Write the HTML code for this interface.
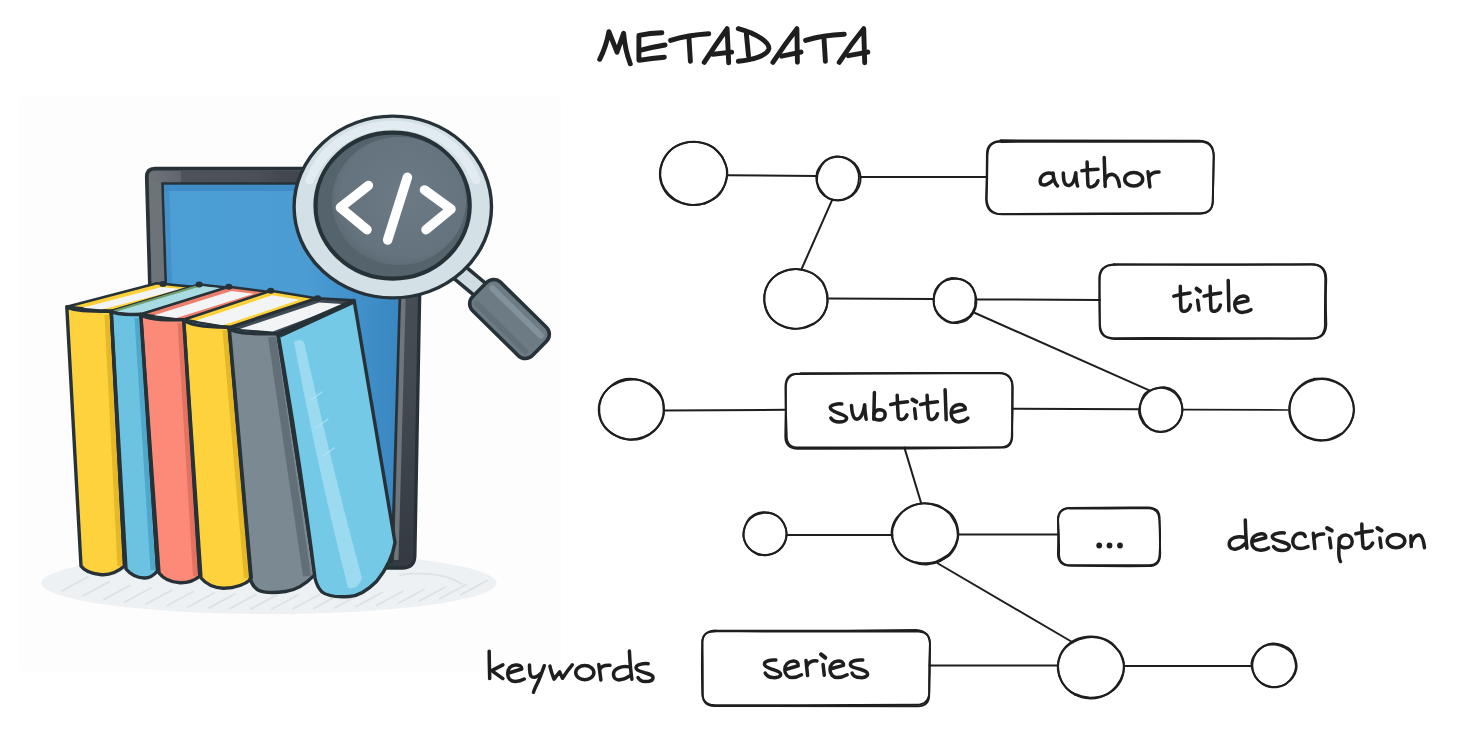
<!DOCTYPE html>
<html><head><meta charset="utf-8"><title>Metadata</title>
<style>
html,body{margin:0;padding:0;background:#fff;width:1471px;height:746px;overflow:hidden;font-family:"Liberation Sans",sans-serif;}
svg{position:absolute;left:0;top:0;display:block}
</style></head>
<body>
<svg width="1471" height="746" viewBox="0 0 1471 746">
<rect x="19" y="97" width="542" height="574" fill="#fdfdfd"/>
<g id="illus">
 <defs>
  <linearGradient id="scr" x1="0" y1="0" x2="1" y2="0">
   <stop offset="0" stop-color="#4c9fd5"/>
   <stop offset="0.6" stop-color="#4a9cd3"/>
   <stop offset="1" stop-color="#3986c1"/>
  </linearGradient>
  <radialGradient id="lens" cx="0.55" cy="0.45" r="0.6">
   <stop offset="0" stop-color="#6b7a84"/>
   <stop offset="0.8" stop-color="#64737d"/>
   <stop offset="1" stop-color="#5b6972"/>
  </radialGradient>
  <linearGradient id="tabg" x1="0" y1="0" x2="0" y2="1">
   <stop offset="0" stop-color="#4a5156"/>
   <stop offset="0.5" stop-color="#454c51"/>
   <stop offset="1" stop-color="#343b40"/>
  </linearGradient>
  <linearGradient id="topbz" gradientUnits="userSpaceOnUse" x1="147" y1="0" x2="330" y2="0">
   <stop offset="0" stop-color="#6d7378"/>
   <stop offset="0.06" stop-color="#6a7075"/>
   <stop offset="0.18" stop-color="#60666b"/>
   <stop offset="0.19" stop-color="#4d5358"/>
   <stop offset="0.6" stop-color="#4a5055"/>
   <stop offset="0.75" stop-color="#42484d"/>
   <stop offset="1" stop-color="#3f454a"/>
  </linearGradient>
 </defs>
 <!-- shadow -->
 <ellipse cx="269" cy="583" rx="227.6" ry="31" fill="#eef1f3"/>
 <clipPath id="shc"><ellipse cx="269" cy="583" rx="225" ry="29"/></clipPath>
 <g stroke="#dce2e6" stroke-width="1.8" stroke-linecap="round" clip-path="url(#shc)"><path d="M62.0,590.9 L88.0,576.9"/><path d="M83.0,595.9 L109.0,581.9"/><path d="M104.0,599.4 L130.0,585.4"/><path d="M125.0,602.0 L151.0,588.0"/><path d="M146.0,604.1 L172.0,590.1"/><path d="M167.0,605.7 L193.0,591.7"/><path d="M188.0,607.0 L214.0,593.0"/><path d="M209.0,607.9 L235.0,593.9"/><path d="M230.0,608.5 L256.0,594.5"/><path d="M251.0,608.9 L277.0,594.9"/><path d="M272.0,609.0 L298.0,595.0"/><path d="M293.0,608.8 L319.0,594.8"/><path d="M314.0,608.4 L340.0,594.4"/><path d="M335.0,607.7 L361.0,593.7"/><path d="M356.0,606.6 L382.0,592.6"/><path d="M377.0,605.3 L403.0,591.3"/><path d="M398.0,603.5 L424.0,589.5"/><path d="M419.0,601.3 L445.0,587.3"/><path d="M440.0,598.5 L466.0,584.5"/><path d="M461.0,594.6 L487.0,580.6"/><path d="M400,575 Q440,570 462,584" fill="none"/></g>
 <!-- tablet -->
 <path d="M146.6,177 Q146.6,168.4 155,168.4 L414,168.4 Q422,168.4 421.8,177 L414.8,556 Q414.5,568 402,568 L170,568 Q158,568 157.6,556 Z" fill="url(#tabg)" stroke="#263238" stroke-width="3.4" stroke-linejoin="round"/>
 <path d="M149,176 Q149,171 155,171 L330,171 L330,183.5 L162.5,183.5 L175,560 L159,560 Z" fill="url(#topbz)"/>
 <path d="M149,178 L162,183.5 L175,560 L159,560 Z" fill="#6c7379"/>
 <path d="M162.5,183.5 L403.2,183.5 L392,562 L175,562 Z" fill="url(#scr)" stroke="#263238" stroke-width="2.6"/>
 <path d="M164,185 L402,185 L401.8,191 L164,191 Z" fill="#3d89c3" opacity="0.85"/>
 <path d="M164,185 L169,185 L181,560 L176,560 Z" fill="#3d89c3" opacity="0.6"/>
 <path d="M404,195 L408.5,195 L398.5,560 L394,560 Z" fill="#6f767b"/>
 <!-- magnifier handle -->
 <path d="M452,266 L483,292" stroke="#263238" stroke-width="20" stroke-linecap="butt"/>
 <path d="M453,267 L482,291" stroke="#cfdce2" stroke-width="13" stroke-linecap="butt"/>
 <g transform="translate(509.5,319) rotate(44.5)">
  <rect x="-42" y="-20" width="84" height="40" rx="10" fill="#6d7b85" stroke="#263238" stroke-width="3.6"/>
  <path d="M-34,-10 L34,-10" stroke="#83919a" stroke-width="6" stroke-linecap="round"/>
  <path d="M-34,12 L34,12" stroke="#63717a" stroke-width="6" stroke-linecap="round"/>
 </g>
 <!-- magnifier ring -->
 <ellipse cx="392.8" cy="207" rx="98.7" ry="90.9" fill="#d3e0e6" stroke="#263238" stroke-width="3.4"/>
 <path d="M310,180 A88,82 0 0,1 476,180" stroke="#e3ecf0" stroke-width="9" fill="none" stroke-linecap="round" opacity="0.9"/>
 <ellipse cx="392.6" cy="205.6" rx="77.1" ry="73" fill="#55636c" stroke="#263238" stroke-width="4.2"/>
 <ellipse cx="399" cy="201" rx="67" ry="64" fill="url(#lens)"/>
 <g stroke="#ffffff" stroke-width="9.5" stroke-linecap="round" stroke-linejoin="round" fill="none">
  <path d="M368.4,185.5 L340.4,207.6 L367,229.7"/>
  <path d="M407.4,177.2 L387.6,240"/>
  <path d="M424.5,189.9 L451,209.1 L426,229.7"/>
 </g>
 <!-- books -->
  <path d="M66.8,306.8 L156.8,283.3 L201.2,287.6 L111.2,311.1 Z" fill="#fdd13a" stroke="#263238" stroke-width="2.6" stroke-linejoin="round"/>
  <path d="M82.5,307.7 L161.7,287.0 L181.2,288.9 L102.0,309.6 Z" fill="#f2f4f5"/>
  <path d="M111.2,311.1 L199.2,284.6 L228.8,287.8 L140.8,314.3 Z" fill="#7aa9a6" stroke="#263238" stroke-width="2.6" stroke-linejoin="round"/>
  <path d="M115.5,311.5 L200.6,286.0 L224.3,288.6 L137.2,314.0 Z" fill="#a8dce2"/>
  <path d="M113.5,311.3 L199.5,285.5" stroke="#6f9c6a" stroke-width="2.2"/>
  <path d="M140.8,314.3 L228.8,286.8 L271.7,292.2 L183.7,319.7 Z" fill="#ee7f6e" stroke="#263238" stroke-width="2.6" stroke-linejoin="round"/>
  <path d="M154.0,315.2 L231.5,291.0 L253.8,293.8 L176.4,318.0 Z" fill="#f2f4f5"/>
  <path d="M183.7,319.7 L270.7,290.7 L316.3,298.2 L229.3,327.2 Z" fill="#fdd13a" stroke="#263238" stroke-width="2.6" stroke-linejoin="round"/>
  <path d="M195.6,320.8 L272.2,295.3 L299.6,299.8 L223.0,325.3 Z" fill="#f2f4f5"/>
  <path d="M228.6,328.3 L317.6,298.3 L354.1,300.4 L278.0,333.6 Z" fill="#3f4a52" stroke="#263238" stroke-width="2.6" stroke-linejoin="round"/>
  <path d="M239.8,328.9 L319.1,302.5 L345.5,304.2 L272.8,331.6 Z" fill="#f2f4f5"/>
 <g fill="#263238">
  <ellipse cx="163" cy="284" rx="3.6" ry="3"/>
  <ellipse cx="199.2" cy="284.6" rx="3.6" ry="3"/>
  <ellipse cx="228.8" cy="286.8" rx="3.6" ry="3"/>
  <ellipse cx="270.7" cy="290.7" rx="3.6" ry="3"/>
  <ellipse cx="317.6" cy="298.3" rx="3.6" ry="3"/>
 </g>
 <g stroke="#263238" stroke-width="3.4" stroke-linejoin="round">
  <path d="M66.8,306.8 Q73,312 111.2,311.1 L124.5,566 Q113,576 100,574.5 Q86,573 81,566 Z" fill="#fdd23c"/>
  <path d="M111.2,311.1 Q117,315.5 140.8,314.3 L157.6,571 Q151,578.5 144,578 Q133,577.5 126,569 Z" fill="#6bc3e1"/>
  <path d="M140.8,314.3 Q148,321 183.7,319.7 L199.8,576 Q192,583 180,582.8 Q166,582 159,573 Z" fill="#fb8b78"/>
  <path d="M183.7,319.7 Q191,327.5 229.3,327.2 L251.4,579 Q240,588.5 223,588.2 Q209,587.5 201,578 Z" fill="#fdd23c"/>
  <path d="M228.6,328.3 Q236,335 278,333.6 L315.2,574.4 Q300,590 285.6,591.5 Q266,594 258,590 Q252,586 250,578 Z" fill="#7b8993"/>
 </g>
 <g stroke-width="5" fill="none">
  <path d="M107,315 L120,566" stroke="#e6b726"/>
  <path d="M137,318 L153,570" stroke="#4fa7cc"/>
  <path d="M180,323 L195.5,576" stroke="#e4725f"/>
  <path d="M225,330 L246.5,578" stroke="#e6b726"/>
  <path d="M272,337 L307,576" stroke="#626f78" stroke-width="8"/>
 </g>
 <g stroke="#263238" stroke-width="3.4" fill="none">
  <path d="M111.2,312 L124.5,566"/><path d="M140.8,315 L157.6,571"/><path d="M183.7,320.5 L199.8,576"/><path d="M229.3,328 L251.4,579"/><path d="M278,334 L315.2,574.4"/>
 </g>
 <g stroke="#263238" stroke-width="3.4" stroke-linejoin="round">
  <path d="M278,333.6 L354.1,300.4 L395,542.5 Q392,562 376.7,581.3 Q362,596 349.4,596.5 Q330,598 322,592 Q317,587 315,578 Q300,460 278,333.6 Z" fill="#74c9e6"/>
 </g>
 <path d="M294,342 Q299,338 304,342 Q330,460 362,578 Q358,590 348,588 Q318,470 294,342 Z" fill="#9cdaef"/>
 <g stroke="#b3e3f3" stroke-width="1.4" stroke-linecap="round" opacity="0.8"><path d="M311,400 L322,392"/><path d="M316,428 L328,419"/><path d="M323,456 L334,448"/></g>
 <path d="M280,336 L354,302" stroke="#263238" stroke-width="3.4" fill="none"/>
</g>
<g id="diagram" fill="none" stroke="#1e1e1e" stroke-linecap="round" stroke-linejoin="round">
 <g stroke-width="2">
  <path d="M727,175.2 L816.5,176"/>
  <path d="M860.5,177 L987,177"/>
  <path d="M832.3,199.6 L801.6,269"/>
  <path d="M829,298.5 L933.5,299"/>
  <path d="M976.3,299.4 L1100,300"/>
  <path d="M975,313 L1149.3,390.4"/>
  <path d="M664,410.4 L786,409.8"/>
  <path d="M1012.4,408.8 L1139.5,409.2"/>
  <path d="M1183,409.6 L1288,410" stroke-width="1.7"/>
  <path d="M904.4,447.6 L921.2,503.3"/>
  <path d="M786.6,535 L892.5,535"/>
  <path d="M958,534.6 L1058.2,534.6"/>
  <path d="M938,563.5 L1073,642.5"/>
  <path d="M929.4,665.4 L1057.5,665.6"/>
  <path d="M1124.1,666 L1251.8,666"/>
 </g>
 <g stroke-width="1.9">
  <path d="M714.21,198.92 C711.77,199.85 704.64,203.68 699.59,204.49 C694.54,205.30 688.85,205.07 683.91,203.79 C678.97,202.52 673.68,200.10 669.95,196.84 C666.23,193.58 663.18,188.78 661.55,184.23 C659.92,179.69 659.48,174.30 660.18,169.58 C660.88,164.85 662.92,159.90 665.73,155.88 C668.55,151.87 672.59,147.82 677.05,145.48 C681.51,143.14 687.32,141.98 692.50,141.85 C697.68,141.72 703.51,142.62 708.13,144.70 C712.75,146.78 717.17,150.49 720.23,154.35 C723.29,158.21 725.61,163.18 726.49,167.86 C727.37,172.55 726.87,177.84 725.49,182.46 C724.12,187.08 721.67,192.06 718.23,195.60 C714.79,199.13 707.08,202.33 704.85,203.67"/>
  <path d="M722.28,157.02 C723.10,159.25 726.77,165.84 727.22,170.42 C727.67,174.99 726.71,180.14 724.97,184.46 C723.23,188.78 720.28,193.12 716.76,196.31 C713.25,199.50 708.51,202.21 703.88,203.59 C699.24,204.98 693.74,205.31 688.94,204.62 C684.14,203.93 679.11,202.00 675.08,199.45 C671.04,196.90 667.17,193.26 664.70,189.33 C662.24,185.39 660.62,180.40 660.26,175.83 C659.90,171.26 660.82,166.21 662.55,161.91 C664.29,157.61 667.13,153.13 670.67,150.01 C674.21,146.90 679.13,144.54 683.79,143.22 C688.46,141.91 693.85,141.46 698.65,142.11 C703.46,142.76 708.61,144.56 712.64,147.14 C716.67,149.72 721.14,155.84 722.83,157.57"/>
  <path d="M819.22,167.63 C820.36,166.37 823.34,161.94 826.08,160.08 C828.82,158.22 832.37,156.85 835.65,156.47 C838.92,156.09 842.62,156.68 845.74,157.79 C848.86,158.90 852.06,160.78 854.37,163.12 C856.69,165.47 858.63,168.70 859.63,171.86 C860.63,175.02 860.93,178.81 860.36,182.06 C859.78,185.31 858.18,188.72 856.20,191.37 C854.21,194.03 851.40,196.46 848.46,197.99 C845.52,199.51 841.89,200.46 838.54,200.53 C835.20,200.61 831.41,199.92 828.41,198.46 C825.40,196.99 822.45,194.45 820.50,191.74 C818.55,189.03 817.29,185.49 816.72,182.19 C816.14,178.89 816.06,175.08 817.04,171.94 C818.02,168.80 821.67,164.79 822.60,163.36"/>
  <path d="M817.82,173.53 C818.50,172.08 820.01,167.31 821.88,164.85 C823.75,162.38 826.34,160.10 829.04,158.74 C831.74,157.38 835.07,156.67 838.08,156.68 C841.09,156.70 844.34,157.49 847.09,158.82 C849.85,160.15 852.66,162.22 854.58,164.68 C856.51,167.14 858.01,170.47 858.62,173.59 C859.23,176.71 858.99,180.29 858.26,183.40 C857.53,186.50 856.17,189.79 854.25,192.25 C852.33,194.70 849.52,196.82 846.74,198.14 C843.96,199.45 840.64,200.17 837.58,200.15 C834.52,200.12 831.07,199.45 828.37,197.99 C825.68,196.53 823.28,193.96 821.42,191.39 C819.56,188.82 817.86,185.70 817.23,182.58 C816.59,179.47 817.56,174.36 817.63,172.71"/>
  <path d="M814.97,323.01 C812.66,323.87 805.90,327.40 801.11,328.16 C796.32,328.91 790.86,328.84 786.22,327.55 C781.57,326.26 776.64,323.63 773.23,320.39 C769.83,317.15 767.24,312.48 765.80,308.10 C764.36,303.73 763.88,298.65 764.60,294.13 C765.32,289.61 767.25,284.68 770.10,281.01 C772.95,277.33 777.35,274.07 781.71,272.08 C786.07,270.09 791.44,268.99 796.26,269.06 C801.09,269.13 806.37,270.41 810.69,272.49 C815.01,274.57 819.47,277.80 822.17,281.53 C824.87,285.26 826.25,290.31 826.89,294.86 C827.53,299.41 827.50,304.49 826.03,308.82 C824.55,313.15 821.57,317.72 818.03,320.83 C814.50,323.95 807.04,326.39 804.84,327.50"/>
  <path d="M822.63,282.55 C823.44,284.63 826.89,290.75 827.51,295.05 C828.12,299.35 827.73,304.19 826.32,308.33 C824.91,312.47 822.26,316.73 819.04,319.87 C815.82,323.00 811.37,325.67 806.99,327.15 C802.62,328.62 797.40,329.17 792.79,328.71 C788.18,328.25 783.30,326.61 779.32,324.37 C775.33,322.12 771.36,318.89 768.86,315.26 C766.36,311.62 764.85,306.89 764.32,302.57 C763.78,298.24 764.20,293.43 765.65,289.31 C767.10,285.18 769.77,280.92 773.02,277.83 C776.27,274.73 780.77,272.14 785.16,270.73 C789.54,269.31 794.70,268.90 799.32,269.35 C803.94,269.81 808.94,271.20 812.87,273.47 C816.81,275.73 821.26,281.37 822.94,282.95"/>
  <path d="M975.81,297.36 C975.62,299.08 975.72,304.45 974.66,307.63 C973.59,310.82 971.77,314.21 969.43,316.46 C967.08,318.71 963.69,320.20 960.58,321.14 C957.46,322.08 953.85,322.70 950.74,322.10 C947.62,321.51 944.40,319.62 941.88,317.56 C939.36,315.49 937.00,312.69 935.62,309.71 C934.23,306.74 933.59,303.08 933.59,299.72 C933.59,296.37 934.13,292.55 935.60,289.58 C937.08,286.62 939.75,283.85 942.44,281.92 C945.14,279.99 948.58,278.38 951.77,278.01 C954.97,277.64 958.50,278.58 961.61,279.69 C964.72,280.81 968.18,282.30 970.43,284.68 C972.68,287.06 974.31,290.70 975.09,293.96 C975.88,297.22 975.13,302.50 975.14,304.21"/>
  <path d="M959.49,322.61 C957.88,322.61 952.83,323.39 949.79,322.60 C946.75,321.81 943.68,319.97 941.26,317.86 C938.85,315.75 936.58,312.93 935.30,309.96 C934.01,307.00 933.42,303.33 933.58,300.07 C933.73,296.82 934.76,293.38 936.20,290.45 C937.64,287.52 939.68,284.38 942.22,282.50 C944.75,280.61 948.27,279.68 951.42,279.14 C954.58,278.60 958.12,278.41 961.16,279.28 C964.19,280.16 967.38,282.11 969.64,284.39 C971.91,286.67 973.63,289.88 974.75,292.95 C975.88,296.03 976.56,299.57 976.38,302.85 C976.20,306.13 975.27,309.78 973.67,312.63 C972.07,315.49 969.48,318.23 966.78,319.99 C964.07,321.74 958.99,322.63 957.43,323.15"/>
  <path d="M663.23,401.94 C663.20,404.30 664.22,411.64 663.02,416.08 C661.82,420.53 659.29,425.12 656.06,428.60 C652.82,432.08 648.26,435.16 643.63,436.96 C639.01,438.76 633.27,439.82 628.29,439.39 C623.31,438.96 617.97,436.88 613.73,434.38 C609.48,431.87 605.32,428.29 602.82,424.34 C600.32,420.39 598.89,415.26 598.72,410.68 C598.55,406.10 599.67,401.00 601.80,396.88 C603.92,392.75 607.51,388.69 611.47,385.92 C615.44,383.15 620.64,381.17 625.59,380.26 C630.54,379.34 636.43,379.08 641.19,380.44 C645.96,381.80 650.59,385.10 654.16,388.40 C657.73,391.69 661.02,395.89 662.60,400.21 C664.17,404.54 663.42,411.99 663.59,414.35"/>
  <path d="M649.32,383.31 C651.04,384.94 657.23,389.28 659.64,393.10 C662.05,396.92 663.35,401.78 663.79,406.22 C664.22,410.66 663.86,415.62 662.26,419.74 C660.65,423.87 657.54,427.89 654.16,430.98 C650.78,434.07 646.40,436.85 641.97,438.27 C637.54,439.68 632.23,440.05 627.57,439.48 C622.91,438.92 617.99,437.23 614.01,434.88 C610.02,432.53 606.08,429.13 603.64,425.37 C601.20,421.62 599.79,416.78 599.37,412.37 C598.94,407.97 599.50,403.07 601.10,398.95 C602.71,394.83 605.67,390.80 609.00,387.65 C612.33,384.51 616.66,381.51 621.09,380.09 C625.52,378.67 630.93,378.49 635.60,379.12 C640.27,379.75 646.86,383.08 649.11,383.87"/>
  <path d="M1176.50,394.44 C1177.35,395.91 1180.66,400.11 1181.59,403.30 C1182.52,406.48 1182.65,410.27 1182.08,413.55 C1181.51,416.83 1180.09,420.29 1178.17,422.97 C1176.24,425.65 1173.45,428.09 1170.55,429.62 C1167.66,431.14 1164.06,432.13 1160.80,432.14 C1157.53,432.14 1153.92,431.16 1150.98,429.63 C1148.03,428.10 1145.10,425.70 1143.12,422.97 C1141.15,420.23 1139.54,416.58 1139.12,413.24 C1138.71,409.89 1139.63,406.19 1140.64,402.91 C1141.66,399.62 1142.93,395.86 1145.22,393.53 C1147.51,391.19 1151.19,389.93 1154.39,388.90 C1157.58,387.86 1161.11,386.94 1164.39,387.30 C1167.67,387.67 1171.36,389.07 1174.08,391.06 C1176.81,393.05 1179.63,397.88 1180.74,399.24"/>
  <path d="M1144.77,423.57 C1144.07,422.09 1141.32,417.84 1140.58,414.70 C1139.85,411.57 1139.67,407.90 1140.36,404.76 C1141.05,401.62 1142.73,398.37 1144.71,395.85 C1146.69,393.33 1149.41,391.00 1152.24,389.64 C1155.07,388.29 1158.59,387.59 1161.68,387.73 C1164.77,387.86 1168.04,388.99 1170.79,390.47 C1173.54,391.94 1176.31,394.07 1178.17,396.58 C1180.04,399.10 1181.40,402.44 1181.98,405.57 C1182.57,408.69 1182.47,412.28 1181.68,415.35 C1180.89,418.41 1179.23,421.55 1177.23,423.95 C1175.23,426.35 1172.46,428.42 1169.66,429.72 C1166.86,431.03 1163.50,431.82 1160.41,431.76 C1157.33,431.69 1153.90,430.82 1151.15,429.32 C1148.39,427.83 1145.10,423.87 1143.89,422.78"/>
  <path d="M1313.74,378.79 C1316.27,378.83 1324.16,377.89 1328.95,379.06 C1333.73,380.22 1338.70,382.64 1342.46,385.76 C1346.22,388.88 1349.65,393.31 1351.50,397.80 C1353.36,402.29 1354.12,407.86 1353.58,412.68 C1353.05,417.49 1351.02,422.66 1348.30,426.69 C1345.58,430.72 1341.54,434.54 1337.27,436.87 C1333.01,439.20 1327.61,440.48 1322.71,440.67 C1317.80,440.86 1312.23,440.07 1307.84,438.01 C1303.46,435.95 1299.33,432.18 1296.39,428.31 C1293.45,424.44 1291.10,419.52 1290.22,414.79 C1289.34,410.05 1289.65,404.50 1291.13,399.89 C1292.61,395.29 1295.59,390.56 1299.09,387.14 C1302.58,383.72 1307.42,380.74 1312.11,379.38 C1316.80,378.03 1324.70,379.06 1327.22,379.00"/>
  <path d="M1341.80,433.39 C1339.66,434.40 1333.47,438.43 1328.94,439.42 C1324.40,440.41 1319.19,440.28 1314.59,439.35 C1310.00,438.43 1305.10,436.56 1301.38,433.85 C1297.65,431.15 1294.28,427.14 1292.24,423.10 C1290.21,419.07 1289.15,414.11 1289.16,409.62 C1289.18,405.13 1290.25,400.15 1292.33,396.15 C1294.41,392.15 1297.92,388.33 1301.66,385.61 C1305.39,382.89 1310.15,380.75 1314.74,379.81 C1319.32,378.87 1324.58,378.96 1329.15,379.97 C1333.72,380.98 1338.57,383.06 1342.18,385.87 C1345.80,388.67 1348.85,392.78 1350.83,396.82 C1352.81,400.86 1354.09,405.69 1354.05,410.12 C1354.00,414.55 1352.64,419.39 1350.55,423.38 C1348.46,427.37 1343.02,432.29 1341.52,434.08"/>
  <path d="M765.66,555.07 C763.99,554.78 758.64,554.68 755.67,553.30 C752.69,551.91 749.81,549.40 747.80,546.75 C745.80,544.09 744.13,540.63 743.62,537.38 C743.10,534.13 743.74,530.43 744.72,527.24 C745.71,524.05 747.26,520.62 749.52,518.25 C751.79,515.88 755.17,513.99 758.32,513.03 C761.46,512.07 765.15,511.95 768.38,512.47 C771.61,513.00 775.08,514.27 777.70,516.18 C780.32,518.08 782.61,520.99 784.09,523.90 C785.57,526.80 786.54,530.34 786.60,533.61 C786.66,536.88 785.92,540.58 784.46,543.52 C783.00,546.45 780.50,549.35 777.82,551.22 C775.14,553.09 771.65,554.13 768.37,554.72 C765.08,555.31 759.82,554.77 758.11,554.78"/>
  <path d="M762.57,512.70 C764.18,512.87 769.23,512.68 772.20,513.71 C775.18,514.74 778.23,516.63 780.43,518.88 C782.63,521.13 784.41,524.21 785.40,527.21 C786.39,530.21 786.83,533.76 786.38,536.86 C785.93,539.96 784.49,543.23 782.70,545.82 C780.90,548.40 778.34,550.81 775.61,552.38 C772.89,553.95 769.48,555.06 766.36,555.25 C763.23,555.43 759.77,554.69 756.85,553.50 C753.93,552.31 750.96,550.41 748.84,548.10 C746.72,545.79 744.95,542.64 744.14,539.63 C743.33,536.61 743.34,533.05 743.96,529.99 C744.59,526.93 746.04,523.76 747.91,521.28 C749.78,518.80 752.43,516.54 755.19,515.09 C757.95,513.64 762.92,512.99 764.47,512.57"/>
  <path d="M947.55,555.27 C945.29,556.44 938.85,561.03 933.99,562.25 C929.13,563.48 923.40,563.50 918.38,562.65 C913.36,561.80 907.78,560.02 903.87,557.15 C899.96,554.28 896.96,549.68 894.92,545.42 C892.88,541.16 891.36,536.15 891.62,531.58 C891.88,527.01 893.79,521.89 896.49,517.99 C899.19,514.10 903.46,510.63 907.83,508.19 C912.19,505.75 917.63,503.69 922.69,503.36 C927.74,503.04 933.40,504.42 938.16,506.24 C942.91,508.05 947.98,510.73 951.22,514.25 C954.47,517.78 956.60,522.82 957.61,527.38 C958.62,531.94 958.53,537.07 957.28,541.59 C956.03,546.11 953.57,551.08 950.11,554.51 C946.65,557.95 938.80,560.91 936.53,562.20"/>
  <path d="M949.49,513.41 C950.62,515.43 954.98,521.23 956.28,525.52 C957.58,529.82 958.14,534.86 957.30,539.21 C956.47,543.57 954.07,548.05 951.28,551.67 C948.50,555.28 944.71,558.76 940.59,560.91 C936.48,563.06 931.27,564.42 926.58,564.57 C921.88,564.72 916.78,563.53 912.41,561.81 C908.05,560.08 903.54,557.50 900.37,554.21 C897.21,550.92 894.72,546.39 893.44,542.07 C892.17,537.75 891.84,532.65 892.75,528.29 C893.66,523.92 896.07,519.46 898.89,515.87 C901.71,512.28 905.52,508.81 909.66,506.73 C913.79,504.65 918.96,503.59 923.68,503.38 C928.41,503.18 933.68,503.77 938.02,505.48 C942.36,507.20 947.77,512.31 949.72,513.68"/>
  <path d="M1084.72,697.32 C1082.37,696.37 1074.53,694.46 1070.60,691.64 C1066.68,688.82 1063.28,684.58 1061.19,680.40 C1059.10,676.23 1058.00,671.19 1058.08,666.58 C1058.17,661.98 1059.33,656.77 1061.71,652.77 C1064.09,648.76 1068.21,645.10 1072.36,642.55 C1076.51,639.99 1081.69,638.10 1086.62,637.45 C1091.55,636.80 1097.27,637.12 1101.94,638.66 C1106.61,640.21 1111.14,643.36 1114.64,646.70 C1118.14,650.05 1121.53,654.35 1122.95,658.75 C1124.37,663.15 1124.24,668.59 1123.17,673.09 C1122.10,677.59 1119.55,682.11 1116.51,685.77 C1113.47,689.43 1109.37,693.06 1104.93,695.03 C1100.48,697.00 1094.87,697.67 1089.84,697.59 C1084.81,697.51 1077.27,695.08 1074.75,694.57"/>
  <path d="M1119.53,651.35 C1120.23,653.57 1123.32,660.17 1123.71,664.68 C1124.10,669.19 1123.59,674.20 1121.90,678.42 C1120.21,682.64 1117.14,686.90 1113.59,690.00 C1110.05,693.10 1105.30,695.65 1100.64,697.01 C1095.99,698.37 1090.47,698.85 1085.66,698.14 C1080.85,697.44 1075.71,695.43 1071.76,692.77 C1067.80,690.12 1064.27,686.21 1061.94,682.23 C1059.62,678.25 1058.10,673.40 1057.81,668.87 C1057.52,664.35 1058.35,659.28 1060.23,655.10 C1062.10,650.92 1065.38,646.72 1069.08,643.79 C1072.78,640.86 1077.71,638.63 1082.42,637.50 C1087.12,636.37 1092.54,636.16 1097.30,637.00 C1102.07,637.85 1107.13,639.83 1111.00,642.54 C1114.87,645.26 1118.95,651.49 1120.54,653.28"/>
  <path d="M1294.20,657.27 C1294.49,658.89 1296.16,663.81 1295.92,666.97 C1295.69,670.14 1294.45,673.49 1292.81,676.27 C1291.17,679.06 1288.81,681.93 1286.06,683.70 C1283.30,685.47 1279.61,686.61 1276.28,686.91 C1272.95,687.21 1269.20,686.67 1266.09,685.51 C1262.98,684.34 1259.84,682.32 1257.62,679.95 C1255.40,677.58 1253.76,674.38 1252.79,671.28 C1251.81,668.18 1251.12,664.47 1251.77,661.33 C1252.41,658.19 1254.51,655.03 1256.65,652.45 C1258.79,649.87 1261.54,647.17 1264.60,645.88 C1267.65,644.58 1271.62,644.37 1274.97,644.67 C1278.31,644.97 1281.72,646.13 1284.67,647.67 C1287.62,649.20 1290.82,651.26 1292.65,653.88 C1294.49,656.49 1295.17,661.77 1295.68,663.35"/>
  <path d="M1285.56,684.39 C1284.01,684.88 1279.43,687.01 1276.26,687.30 C1273.09,687.60 1269.51,687.29 1266.55,686.16 C1263.59,685.04 1260.71,682.89 1258.51,680.56 C1256.32,678.24 1254.37,675.23 1253.38,672.20 C1252.39,669.17 1252.15,665.55 1252.59,662.37 C1253.03,659.18 1254.24,655.76 1256.02,653.10 C1257.79,650.44 1260.49,648.00 1263.26,646.39 C1266.03,644.78 1269.48,643.64 1272.65,643.44 C1275.82,643.24 1279.25,644.04 1282.26,645.17 C1285.28,646.30 1288.56,647.90 1290.75,650.20 C1292.94,652.50 1294.45,655.86 1295.40,658.97 C1296.36,662.08 1296.94,665.68 1296.45,668.84 C1295.97,671.99 1294.37,675.32 1292.50,677.92 C1290.63,680.52 1286.45,683.35 1285.24,684.44"/>
  <path d="M1000.35,140.32 Q1099.81,140.37 1198.55,140.64 Q1213.16,140.53 1213.63,154.74 Q1213.53,177.09 1212.73,199.48 Q1213.43,213.63 1199.30,213.19 Q1099.45,213.05 1000.62,214.08 Q986.41,214.03 986.08,199.23 Q986.82,177.62 986.90,154.56 Q986.60,140.59 1002.92,141.00"/>
  <path d="M1001.42,141.94 Q1099.86,141.83 1199.48,141.55 Q1213.32,141.87 1213.86,156.23 Q1213.24,177.74 1212.89,199.52 Q1213.26,214.18 1198.43,213.90 Q1099.88,213.72 1002.25,214.28 Q987.36,213.80 986.71,198.92 Q987.26,178.31 987.47,155.62 Q987.75,141.15 1001.63,141.49"/>
  <path d="M1113.56,264.39 Q1212.74,264.35 1311.98,264.56 Q1324.87,264.51 1325.28,278.23 Q1324.85,301.74 1324.93,324.58 Q1324.99,338.30 1311.16,338.89 Q1212.63,337.83 1113.42,338.08 Q1099.74,338.47 1099.61,325.14 Q1100.01,301.72 1099.32,277.70 Q1099.67,264.47 1115.80,264.88"/>
  <path d="M1113.50,264.41 Q1213.26,265.23 1311.62,264.21 Q1326.12,264.29 1326.25,278.72 Q1325.52,301.72 1326.34,324.31 Q1326.12,338.80 1311.64,338.13 Q1212.70,339.32 1114.10,339.06 Q1100.23,338.16 1099.96,324.31 Q1098.89,301.28 1099.68,278.86 Q1100.13,264.34 1114.93,264.40"/>
  <path d="M800.36,373.26 Q899.71,372.60 998.81,372.99 Q1012.30,373.48 1012.74,386.90 Q1012.90,410.31 1011.86,434.13 Q1012.57,447.95 998.22,447.40 Q898.99,447.65 800.23,447.42 Q785.72,448.18 786.71,434.49 Q785.53,410.23 785.88,387.37 Q785.81,372.90 801.46,373.69"/>
  <path d="M797.52,374.12 Q899.55,373.27 999.95,373.15 Q1011.84,373.54 1012.23,385.85 Q1011.97,410.51 1012.27,435.89 Q1012.02,448.72 1000.24,447.57 Q899.50,448.90 797.64,448.73 Q785.22,448.65 785.30,436.51 Q785.98,411.47 785.46,385.94 Q786.23,373.24 797.90,373.75"/>
  <path d="M1069.74,508.64 Q1108.98,508.60 1148.39,508.06 Q1159.42,508.72 1159.44,520.15 Q1160.69,536.80 1159.61,553.73 Q1159.54,566.01 1147.82,565.20 Q1108.96,565.33 1069.24,565.13 Q1058.20,565.57 1057.91,553.85 Q1058.38,536.46 1057.95,520.48 Q1057.53,508.16 1071.43,508.03"/>
  <path d="M1069.99,507.98 Q1108.82,507.17 1147.91,507.37 Q1160.37,507.63 1159.49,519.09 Q1159.91,536.84 1160.21,553.68 Q1160.41,566.08 1148.73,566.13 Q1109.84,566.32 1070.75,565.78 Q1058.75,565.41 1059.05,553.56 Q1059.29,536.52 1058.07,519.89 Q1058.63,507.03 1071.37,507.98"/>
  <path d="M714.44,630.62 Q815.18,631.13 916.02,629.87 Q929.69,630.97 929.92,643.72 Q928.93,667.35 929.24,691.77 Q929.09,704.80 916.39,704.82 Q815.96,705.57 714.20,705.06 Q701.97,704.47 702.23,692.17 Q701.61,667.59 702.18,643.37 Q701.62,630.93 716.26,630.34"/>
  <path d="M714.38,631.15 Q816.55,631.90 917.61,631.51 Q929.51,631.03 929.94,643.54 Q930.13,668.08 929.16,694.34 Q929.72,705.85 917.98,706.28 Q816.22,705.94 714.12,705.98 Q702.51,705.83 702.79,693.65 Q702.86,669.04 702.51,642.97 Q702.26,630.99 715.03,631.46"/>
 </g>
</g>
<g id="text" fill="none" stroke="#1e1e1e" stroke-linecap="round" stroke-linejoin="round">
 <g stroke-width="4.9">
  <path d="M599.7,59.3 Q606,47 608.9,31.7 L617,52.1 L623.6,33.3 Q625,50 630.3,63.8"/>
  <path d="M661.9,32.7 Q650,33 638.9,35.3 L638.9,60.3 Q652,58 664.4,57.2"/>
  <path d="M641,50.1 Q653,47 665,45"/>
  <path d="M670.6,40.4 Q688,35 708.8,33.8"/>
  <path d="M688.9,36.8 L690.4,61.3"/>
  <path d="M704.2,62.3 Q716,44 727.1,28.7 L728.7,62.8"/>
  <path d="M712.9,54.2 L731.7,52.1"/>
  <path d="M746.4,34.3 L748.5,55.7"/>
  <path d="M738.3,28.7 C758,34 770,43 768.8,49 C767,56 752,60 738.3,61.3"/>
  <path d="M772.9,62.3 Q785,44 796.9,28.7 L797.4,62.3"/>
  <path d="M781.6,56.2 L801,52.1"/>
  <path d="M805.6,40.4 Q823,35 844.3,34.3"/>
  <path d="M823.9,36.8 L825.4,61.3"/>
  <path d="M839.2,62.3 Q851,44 863.7,28.7 L864.7,62.8"/>
  <path d="M848.4,55.7 L867.8,52.1"/>
 </g>
 <g stroke-width="3.5">
  <!-- author -->
  <path d="M1052.8,174 C1046,171 1040,176 1040.2,181.5 C1040.5,186 1046,187 1053,180"/>
  <path d="M1053,173 C1053.5,179 1055,184 1057.6,186"/>
  <path d="M1063.3,173 C1063.5,180 1064,186 1069,185.5 C1073,185 1075,178 1075.7,173"/>
  <path d="M1075.7,173 C1076,179 1076.5,183 1077.6,186"/>
  <path d="M1087.1,162.1 C1087.5,172 1087.5,180 1088,185 C1089,189 1096,187 1098,180.7"/>
  <path d="M1081.9,170.7 Q1090,169.5 1098,169.3"/>
  <path d="M1104.2,157.4 L1105.2,186.4"/>
  <path d="M1105.2,180 C1107,175 1110,174 1113,174.5 C1117,175.5 1119,182 1119.5,186.4"/>
  <ellipse cx="1133.7" cy="179.2" rx="9" ry="6.8"/>
  <path d="M1148,171.7 L1149.9,186.9"/>
  <path d="M1149,177 C1151,173 1155,172 1159,172.1"/>
  <!-- title -->
  <path d="M1180.3,286.2 C1180.5,296 1180.5,304 1181,309 C1182,313 1189,312 1190.5,304.9"/>
  <path d="M1173.8,296.1 Q1182,294 1190,293"/>
  <path d="M1196.6,288.8 L1200,291.2" stroke-width="4.2"/>
  <path d="M1197.6,300.2 L1199,310"/>
  <path d="M1210.2,286.2 C1210.5,296 1210.5,304 1211,309 C1212,313 1219,312 1220.4,304.9"/>
  <path d="M1204.1,296.1 Q1212,294 1220.7,293"/>
  <path d="M1228.2,280.4 L1228.9,310.7"/>
  <path d="M1235.5,303.5 L1247.9,300.8 C1248.5,297.5 1246,295.8 1243,296 C1238,296.5 1234.7,300 1234.7,304.5 C1234.7,309.5 1238,312.4 1242,312.4 C1246,312.4 1249,311 1251,309.7"/>
  <!-- subtitle -->
  <path d="M841.8,403.9 C837,403.5 830.3,405 830.3,407.5 C830.3,410.5 835,412 839,413.5 C843,415 846.6,416 846.6,418 C846.6,421 842,422 839.5,422 C835,422 832,420 830.9,418.1"/>
  <path d="M851.5,405.6 C851.8,411 852,416 855,418.5 C859,421 863,416 864.6,405"/>
  <path d="M864.6,405 C865,411 865.5,416 866.2,419.2"/>
  <path d="M874.4,392.5 L873.8,419.2"/>
  <path d="M874,414 C875,409.5 880,409 883,410.5 C886,412 886,418 882,419.5 C879,420.5 875.5,419.5 874,418"/>
  <path d="M897.2,395.2 C897.5,404 897.8,412 898.3,417 C899,421 905,420 907,414.8"/>
  <path d="M890.7,404.5 Q899,402.5 907.6,401.8"/>
  <path d="M912.5,399.6 L916.3,401.8" stroke-width="4.2"/>
  <path d="M914.6,408.8 L915.7,418.6"/>
  <path d="M927.1,395.2 C927.4,404 927.8,412 928.5,417 C929.5,421.5 936,420 937.5,413.7"/>
  <path d="M920.6,404.5 Q929,402.5 937.5,401.8"/>
  <path d="M945.1,389.8 L946.2,419.7"/>
  <path d="M952.2,412.6 L965.2,409.4 C965.5,406 962.5,404.3 959.2,404.5 C954,405 951.1,408.5 951.1,413 C951.1,418.5 954.5,421.9 958.5,421.9 C962.5,421.9 966,420 967.9,418.1"/>
  <!-- series -->
  <path d="M775.8,660.1 C771,659.5 764.4,661 764.4,664 C764.4,667 769,668 773,669.5 C777.5,671 780.7,672 780.7,674.5 C780.7,677 776,677.8 773,677.6 C769,677.4 766.5,675.5 765.2,673.1"/>
  <path d="M785.6,669.5 L798.2,665.8 C798.5,662.5 796,660.7 793.3,660.9 C788,661.3 784.8,665 784.8,669.5 C784.8,674.5 788,677.6 792,677.6 C796,677.6 799.5,676 801.5,674.8"/>
  <path d="M806,660.5 L807.6,675.6"/>
  <path d="M807.2,665.4 C809,662 813,660.5 817,660.9"/>
  <path d="M821.1,654.4 L825.2,657.6" stroke-width="4.2"/>
  <path d="M823.1,664.6 L824.3,675.2"/>
  <path d="M830.9,668.7 L843.5,665.4 C843.8,662 841,660.7 838.2,660.9 C833,661.3 830,665 830,669.5 C830,674.5 833.5,677.6 837.4,677.6 C841.5,677.6 845,676 847.2,674.8"/>
  <path d="M862.7,660.1 C857,659.5 850.4,661 850.4,664.2 C850.4,667 855,668 859.4,669 C864,670.5 867.6,671.5 867.6,674 C867.6,677 863,677.8 860.2,677.6 C856,677.4 853,675.5 852.1,673.1"/>
  <!-- description -->
  <path d="M1245.3,520 C1245.5,530 1246,540 1246.9,548.2"/>
  <path d="M1244.1,537.3 C1238,535.5 1229.2,538 1229.2,543.8 C1229.2,549 1233.7,549.5 1236,549 C1240,548 1243,546 1244.9,543.8"/>
  <path d="M1252.6,541.4 L1265.8,537.7 C1266,534.5 1263.5,533.5 1261,533.7 C1255.5,534.2 1251.8,537.5 1251.8,542.2 C1251.8,547 1255.5,550.2 1260.2,550.2 C1264,550.2 1267,549 1268.6,547.8"/>
  <path d="M1284.3,532.9 C1279,532.5 1272.3,534 1272.3,536.8 C1272.3,539.5 1277,540.5 1280.3,541.4 C1285,542.8 1289.2,543.8 1289.2,546.4 C1289.2,549.5 1285,550.6 1281.9,550.6 C1277.5,550.6 1275,548.5 1273.5,546.6"/>
  <path d="M1305.2,536.5 C1304.5,534 1302.5,533.3 1300.4,533.3 C1295.5,533.5 1292.8,537.5 1292.8,541.4 C1292.8,546 1296,548.6 1300.4,548.6 C1303.5,548.6 1306,547.5 1308,546.6"/>
  <path d="M1313.3,533.3 L1314.9,548.6"/>
  <path d="M1314,538.1 C1316,535 1320,534 1323.7,534.1"/>
  <path d="M1327.2,528.1 L1331.7,530.5" stroke-width="4.2"/>
  <path d="M1329.6,538.1 L1330.9,547.8"/>
  <path d="M1339.3,538 C1339,545 1338.5,553 1339,556 C1339.5,559 1340,561 1340.5,561.5"/>
  <path d="M1339.5,540 C1340.5,536.5 1343,534.9 1345.7,534.9 C1349.5,534.9 1352.2,538 1352.2,541.5 C1352.2,545.5 1349,547.8 1345.7,547.8 C1342.5,547.8 1340.5,546.5 1339.7,545.4"/>
  <path d="M1361.8,524.1 C1362,533 1362.5,541 1363,546 C1363.5,550 1370,549 1372.7,543"/>
  <path d="M1355.8,533.7 Q1364,531.5 1372.3,530.9"/>
  <path d="M1377.5,528.1 L1381.5,530.5" stroke-width="4.2"/>
  <path d="M1379.9,538.1 L1381.1,547.4"/>
  <ellipse cx="1396" cy="541.1" rx="8.8" ry="6.6"/>
  <path d="M1410.9,535.7 L1411.3,546.6"/>
  <path d="M1411.3,543 C1413,538 1416,534.9 1418.9,534.9 C1422,535 1423.5,540 1424.5,547.8"/>
  <!-- keywords -->
  <path d="M489.2,651.3 C489.2,660 489.5,670 489.7,678.6"/>
  <path d="M502.9,664.9 L491.7,670.6 L502.9,678.6"/>
  <path d="M508.6,673 L521.8,669 C522,666 519,664.7 515.4,664.9 C510.5,665.3 507.7,669 507.7,673.8 C507.7,678.5 511,681.4 515.4,681.4 C519.5,681.4 522.5,680 524.2,679"/>
  <path d="M529.5,664.9 C529.5,670 529.8,674 531,676 C533,678.5 538,677 540.3,673.8"/>
  <path d="M544.3,665.7 C542,672 539.5,679 537.5,683 C535.5,687 534,690 533.5,692.3"/>
  <path d="M549.9,666.1 Q551.5,673 554,679.2 Q557,675 559.7,671.8 Q561,675 562.5,678.3 Q567,671 572.3,664.9"/>
  <ellipse cx="584.8" cy="672.6" rx="9.1" ry="7.2"/>
  <path d="M598.8,664.5 L600.9,680"/>
  <path d="M599.7,669.4 C601.5,666 605.5,665 609.9,665.3"/>
  <path d="M629.4,651 C629.8,660 630.5,670 631.9,679.2"/>
  <path d="M629,666.9 C622,665.5 613.5,668.5 613.5,674.3 C613.5,679 617.6,680 619,680 C623,679.5 627,678 629.8,675.9"/>
  <path d="M648.2,663.7 C643,663.3 636,664.5 636,667.7 C636,670.5 641,671.5 644.5,672.6 C649,674 653.1,675 653.1,677.5 C653.1,680.5 649,681.6 645.3,681.6 C641.5,681.6 639,679.5 638,677.5"/>
 </g>
 <g fill="#1e1e1e" stroke="none">
  <circle cx="1099.2" cy="545.5" r="2.9"/>
  <circle cx="1109.5" cy="545.5" r="2.9"/>
  <circle cx="1120" cy="545.5" r="2.9"/>
 </g>
</g>
</svg>
</body></html>
